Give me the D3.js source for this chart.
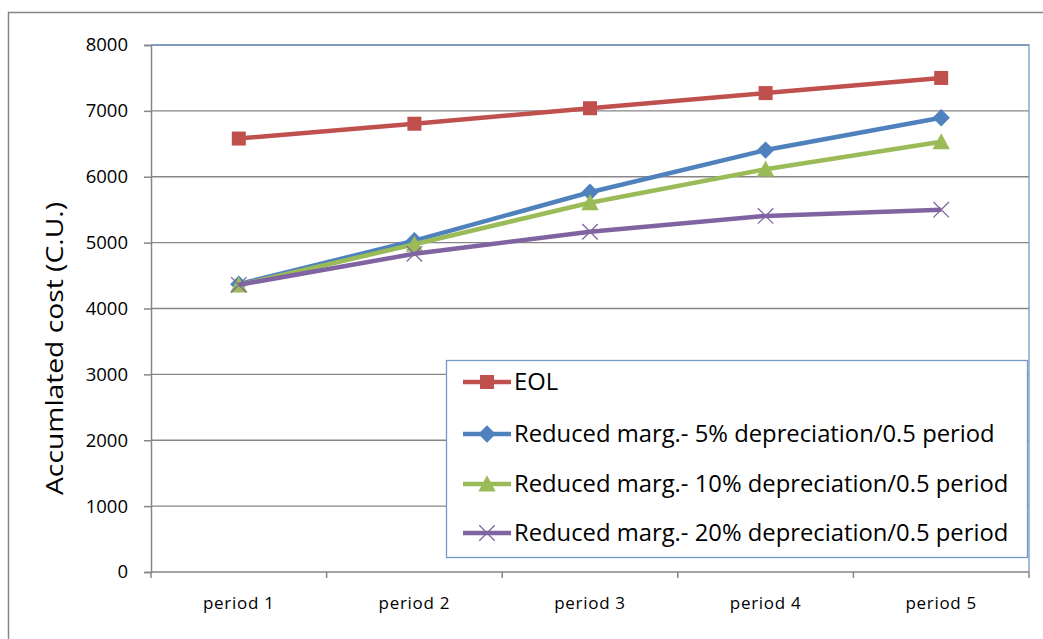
<!DOCTYPE html>
<html>
<head>
<meta charset="utf-8">
<script src="https://cdn.jsdelivr.net/npm/d3@7"></script>
<style>
  html, body { margin: 0; padding: 0; background: #fff; }
  svg { display: block; font-family: "Open Sans", "Noto Sans", sans-serif; }
</style>
</head>
<body>
<svg id="chart" width="1043" height="639"></svg>
<script>
// Accumulated cost per period for each strategy
const categories = ["period 1", "period 2", "period 3", "period 4", "period 5"];
const seriesNames = [
  "EOL",
  "Reduced marg.- 5% depreciation/0.5 period",
  "Reduced marg.- 10% depreciation/0.5 period",
  "Reduced marg.- 20% depreciation/0.5 period"
];
const eol      = [6580, 6805, 7040, 7270, 7500];
const dep5     = [4370, 5030, 5765, 6405, 6895];
const dep10    = [4355, 4975, 5605, 6115, 6530];
const dep20    = [4360, 4830, 5165, 5405, 5500];
const yTicks   = [0, 1000, 2000, 3000, 4000, 5000, 6000, 7000, 8000];

const colors  = ["#c0504d", "#4f81bd", "#9bbb59", "#8064a2"];
const markers = ["square", "diamond", "triangle", "cross"];
const series = [eol, dep5, dep10, dep20].map((values, i) => ({
  name: seriesNames[i], values, color: colors[i], marker: markers[i]
}));

const svg = d3.select("#chart");
const plot = { left: 151, top: 45, right: 1029, bottom: 572 };

// outer chart frame
svg.append("rect")
  .attr("x", 8.5).attr("y", 12.5)
  .attr("width", 1100).attr("height", 700)
  .attr("fill", "none").attr("stroke", "#868686").attr("stroke-width", 1.5);

const x = d3.scaleBand().domain(categories).range([plot.left, plot.right]);
const y = d3.scaleLinear().domain([0, 8000]).range([plot.bottom, plot.top]);

// horizontal gridlines
svg.append("g").selectAll("line")
  .data(yTicks.filter(t => t > 0))
  .join("line")
  .attr("x1", plot.left).attr("x2", plot.right)
  .attr("y1", d => y(d)).attr("y2", d => y(d))
  .attr("stroke", "#868686").attr("stroke-width", 1.3);

// plot area border (top and right)
svg.append("path")
  .attr("d", `M${plot.left},${plot.top}H${plot.right}V${plot.bottom}`)
  .attr("fill", "none").attr("stroke", "#7399c6").attr("stroke-width", 1.3);

// y axis
const yAxis = d3.axisLeft(y).tickValues(yTicks).tickSize(7).tickPadding(16)
  .tickFormat(d3.format("d"));
const gy = svg.append("g").attr("transform", `translate(${plot.left},0)`).call(yAxis);
gy.select(".domain").attr("stroke", "#868686").attr("stroke-width", 1.5);
gy.selectAll(".tick line").attr("stroke", "#868686").attr("stroke-width", 1.5);
gy.selectAll(".tick text")
  .attr("font-size", 18.5).attr("fill", "#000")
  .attr("font-family", "'Open Sans', sans-serif");

// x axis with ticks between categories
const gx = svg.append("g").attr("transform", `translate(0,${plot.bottom})`);
gx.append("line")
  .attr("x1", plot.left).attr("x2", plot.right)
  .attr("stroke", "#868686").attr("stroke-width", 1.5);
const bounds = categories.map(c => x(c)).concat([plot.right]);
gx.selectAll("line.tk").data(bounds).join("line").attr("class", "tk")
  .attr("x1", d => d).attr("x2", d => d).attr("y1", 0).attr("y2", 6)
  .attr("stroke", "#868686").attr("stroke-width", 1.5);
gx.selectAll("text").data(categories).join("text")
  .attr("x", d => x(d) + x.bandwidth() / 2)
  .attr("y", 37)
  .attr("text-anchor", "middle")
  .attr("font-size", 17).attr("letter-spacing", 0.7).attr("fill", "#000")
  .text(d => d);

// y axis title, spanning the middle of the value axis
svg.append("text")
  .attr("transform", `translate(63,${(202 + 495) / 2}) rotate(-90)`)
  .attr("text-anchor", "middle")
  .attr("font-size", 24).attr("fill", "#000")
  .attr("textLength", 293).attr("lengthAdjust", "spacingAndGlyphs")
  .text("Accumlated cost (C.U.)");

// marker shapes
function drawMarker(g, type, color, size) {
  if (type === "square") {
    g.append("rect").attr("x", -size / 2).attr("y", -size / 2)
      .attr("width", size).attr("height", size).attr("fill", color);
  } else if (type === "diamond") {
    const s = size * 0.62;
    g.append("path").attr("d", `M0,${-s}L${s},0L0,${s}L${-s},0Z`).attr("fill", color);
  } else if (type === "triangle") {
    const s = size * 0.62;
    g.append("path").attr("d", `M0,${-s}L${s},${s * 0.85}L${-s},${s * 0.85}Z`).attr("fill", color);
  } else if (type === "cross") {
    const s = size * 0.55;
    g.append("path").attr("d", `M${-s},${-s}L${s},${s}M${-s},${s}L${s},${-s}`)
      .attr("stroke", color).attr("stroke-width", 1.3).attr("fill", "none");
  }
}

const line = d3.line()
  .x((d, i) => x(categories[i]) + x.bandwidth() / 2)
  .y(d => y(d));

const gs = svg.append("g");
series.forEach(s => {
  gs.append("path")
    .attr("d", line(s.values))
    .attr("fill", "none").attr("stroke", s.color).attr("stroke-width", 4.5)
    .attr("stroke-linejoin", "round");
  s.values.forEach((v, i) => {
    const g = gs.append("g")
      .attr("transform", `translate(${x(categories[i]) + x.bandwidth() / 2},${y(v)})`);
    drawMarker(g, s.marker, s.color, 14);
  });
});

// legend
const lg = svg.append("g");
lg.append("rect")
  .attr("x", 446.5).attr("y", 360.5).attr("width", 581).attr("height", 197)
  .attr("fill", "#fff").attr("stroke", "#7399c6").attr("stroke-width", 1.3);
const rowY = [382, 434, 484, 533];
series.forEach((s, i) => {
  const g = lg.append("g").attr("transform", `translate(0,${rowY[i]})`);
  g.append("line").attr("x1", 463).attr("x2", 511).attr("y1", 0).attr("y2", 0)
    .attr("stroke", s.color).attr("stroke-width", 4.5);
  const m = g.append("g").attr("transform", "translate(487,0)");
  drawMarker(m, s.marker, s.color, 14);
  g.append("text").attr("x", 514).attr("y", 8)
    .attr("font-size", 23.8).attr("fill", "#000")
    .text(s.name);
});
</script>
</body>
</html>
